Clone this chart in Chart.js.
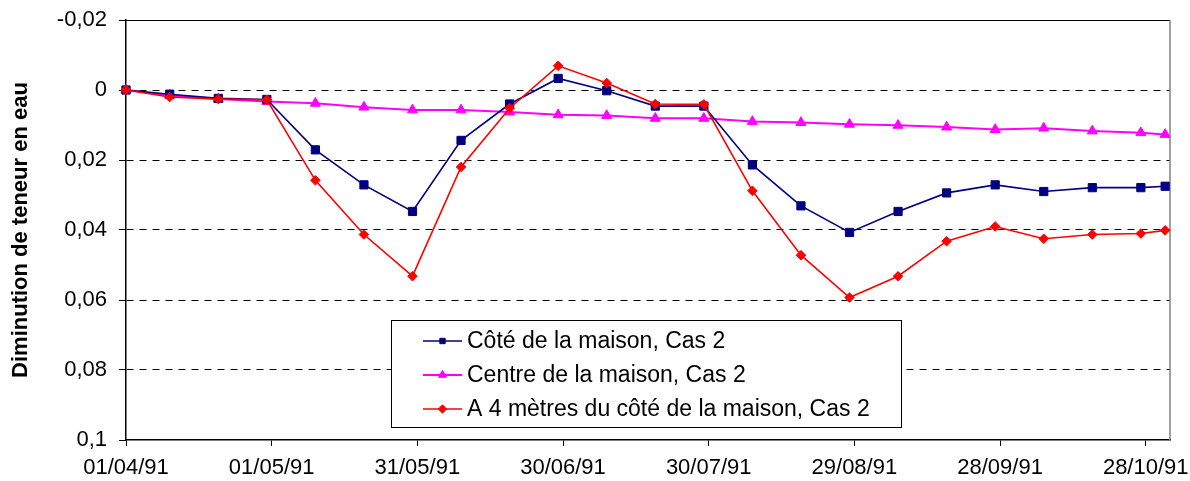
<!DOCTYPE html>
<html>
<head>
<meta charset="utf-8">
<script src="https://cdn.jsdelivr.net/npm/chart.js@4/dist/chart.umd.min.js"></script>
<style>
  html, body { margin: 0; padding: 0; background: #ffffff; }
  canvas { display: block; }
</style>
</head>
<body>
<canvas id="chart" width="1190" height="481"></canvas>
<script>
// Days elapsed since 01/04/91 for each measurement
const dayOffsets = [0, 9, 19, 29, 39, 49, 59, 69, 79, 89, 99, 109, 119, 129, 139, 149, 159, 169, 179, 189, 199, 209, 214];

// Decrease in water content per location
const coteMaison   = [0, 0.0012, 0.0024, 0.0027, 0.0171, 0.0271, 0.0347, 0.0144, 0.0040, -0.0033, 0.0002, 0.0046, 0.0046, 0.0214, 0.0331, 0.0407, 0.0347, 0.0294, 0.0271, 0.0290, 0.0279, 0.0279, 0.0275];
const centreMaison = [0, 0.0015, 0.0026, 0.0033, 0.0038, 0.0049, 0.0057, 0.0057, 0.0063, 0.0071, 0.0073, 0.0081, 0.0081, 0.0090, 0.0093, 0.0098, 0.0101, 0.0106, 0.0113, 0.0109, 0.0117, 0.0122, 0.0127];
const quatreMetres = [0, 0.0020, 0.0026, 0.0028, 0.0258, 0.0413, 0.0532, 0.0220, 0.0052, -0.0069, -0.0020, 0.0040, 0.0041, 0.0288, 0.0472, 0.0593, 0.0532, 0.0432, 0.0390, 0.0425, 0.0413, 0.0410, 0.0401];

const seriesNames = [
  'Côté de la maison, Cas 2',
  'Centre de la maison, Cas 2',
  'A 4 mètres du côté de la maison, Cas 2'
];

// Axis ticks
const xTickDays   = [0, 30, 60, 90, 120, 150, 180, 210];
const xTickLabels = ['01/04/91', '01/05/91', '31/05/91', '30/06/91', '30/07/91', '29/08/91', '28/09/91', '28/10/91'];
const yTickValues = [-0.02, 0, 0.02, 0.04, 0.06, 0.08, 0.1];
const yTickLabels = ['-0,02', '0', '0,02', '0,04', '0,06', '0,08', '0,1'];
const yAxisTitle  = 'Diminution de teneur en eau';

const FONT = "'Liberation Sans', Arial, sans-serif";
const toPoints = vals => vals.map((v, i) => ({ x: dayOffsets[i], y: v }));

// Outer frame of the plot area: black top edge, grey right edge
const plotFrame = {
  id: 'plotFrame',
  beforeDatasetsDraw(chart) {
    const { ctx, chartArea: a } = chart;
    ctx.save();
    ctx.lineWidth = 1;
    ctx.strokeStyle = '#000000';
    ctx.beginPath();
    ctx.moveTo(a.left, a.top + 0.5);
    ctx.lineTo(a.right, a.top + 0.5);
    ctx.stroke();
    ctx.strokeStyle = '#808080';
    ctx.lineWidth = 1.5;
    ctx.beginPath();
    ctx.moveTo(a.right, a.top);
    ctx.lineTo(a.right, a.bottom);
    ctx.stroke();
    ctx.restore();
  }
};

// Boxed legend sitting inside the plot area
const boxedLegend = {
  id: 'boxedLegend',
  afterDatasetsDraw(chart) {
    const ctx = chart.ctx;
    const box = { x: 391, y: 320, w: 510, h: 107 };
    ctx.save();
    ctx.fillStyle = '#ffffff';
    ctx.fillRect(box.x, box.y, box.w, box.h);
    ctx.strokeStyle = '#000000';
    ctx.lineWidth = 1;
    ctx.strokeRect(box.x + 0.5, box.y + 0.5, box.w, box.h);

    const markerRadius = { rect: 3.8, triangle: 4.6, rectRot: 4.2 };
    chart.data.datasets.forEach((ds, i) => {
      const cy = box.y + 21 + i * 34;
      const x0 = box.x + 32, x1 = box.x + 71;
      ctx.strokeStyle = ds.borderColor;
      ctx.lineWidth = ds.borderWidth;
      ctx.beginPath();
      ctx.moveTo(x0, cy);
      ctx.lineTo(x1, cy);
      ctx.stroke();
      ctx.fillStyle = ds.backgroundColor;
      ctx.lineWidth = 1;
      Chart.helpers.drawPoint(ctx, {
        pointStyle: ds.pointStyle,
        radius: markerRadius[ds.pointStyle],
        rotation: 0,
        borderWidth: 1
      }, (x0 + x1) / 2, cy);
      ctx.fillStyle = '#000000';
      ctx.font = '23px ' + FONT;
      ctx.textBaseline = 'middle';
      ctx.textAlign = 'left';
      ctx.fillText(ds.label, box.x + 76, cy + 1);
    });
    ctx.restore();
  }
};

new Chart(document.getElementById('chart'), {
  type: 'line',
  data: {
    datasets: [
      {
        label: seriesNames[0],
        data: toPoints(coteMaison),
        borderColor: '#000080',
        backgroundColor: '#000080',
        borderWidth: 1.6,
        pointStyle: 'rect',
        pointRadius: 5.8,
        pointBorderWidth: 1,
        order: 1,
        clip: false
      },
      {
        label: seriesNames[1],
        data: toPoints(centreMaison),
        borderColor: '#ff00ff',
        backgroundColor: '#ff00ff',
        borderWidth: 2,
        pointStyle: 'triangle',
        pointRadius: 5.8,
        pointBorderWidth: 1,
        order: 2,
        clip: false
      },
      {
        label: seriesNames[2],
        data: toPoints(quatreMetres),
        borderColor: '#ff0000',
        backgroundColor: '#ff0000',
        borderWidth: 1.6,
        pointStyle: 'rectRot',
        pointRadius: 4.8,
        pointBorderWidth: 1,
        order: 0,
        clip: false
      }
    ]
  },
  options: {
    responsive: false,
    animation: false,
    devicePixelRatio: 1,
    layout: { padding: { top: 20, right: 20, left: 0, bottom: 0 } },
    plugins: {
      legend: { display: false },
      tooltip: { enabled: false }
    },
    elements: { line: { tension: 0 } },
    scales: {
      x: {
        type: 'linear',
        min: 0,
        max: 215,
        afterBuildTicks: s => { s.ticks = xTickDays.map(v => ({ value: v })); },
        afterFit: s => {
          s.height = 41;
          s.paddingLeft = 0;
          s.paddingRight = 0;
        },
        ticks: {
          color: '#000000',
          font: { family: FONT, size: 22 },
          padding: 9,
          maxRotation: 0,
          autoSkip: false,
          callback: (v) => xTickLabels[xTickDays.indexOf(v)]
        },
        grid: {
          drawOnChartArea: false,
          drawTicks: true,
          tickLength: 6,
          tickColor: '#000000',
          tickWidth: 1
        },
        border: { display: true, color: '#000000', width: 1.5 }
      },
      y: {
        type: 'linear',
        reverse: true,
        min: -0.02,
        max: 0.1,
        afterBuildTicks: s => { s.ticks = yTickValues.map(v => ({ value: v })); },
        afterFit: s => {
          s.width = 126;
          s.paddingTop = 0;
          s.paddingBottom = 0;
        },
        ticks: {
          color: '#000000',
          font: { family: FONT, size: 22 },
          padding: 12,
          autoSkip: false,
          callback: (v, i) => yTickLabels[i]
        },
        grid: {
          color: c => (c.index === 0 || c.index === yTickValues.length - 1) ? 'rgba(0,0,0,0)' : '#000000',
          lineWidth: 1,
          tickLength: 7,
          tickColor: '#000000',
          tickWidth: 1
        },
        border: { display: true, color: '#000000', width: 1.5, dash: [7, 6] },
        title: {
          display: true,
          text: yAxisTitle,
          color: '#000000',
          font: { family: FONT, size: 22, weight: 'bold' },
          padding: { top: 8, bottom: 0 }
        }
      }
    }
  },
  plugins: [plotFrame, boxedLegend]
});
</script>
</body>
</html>
